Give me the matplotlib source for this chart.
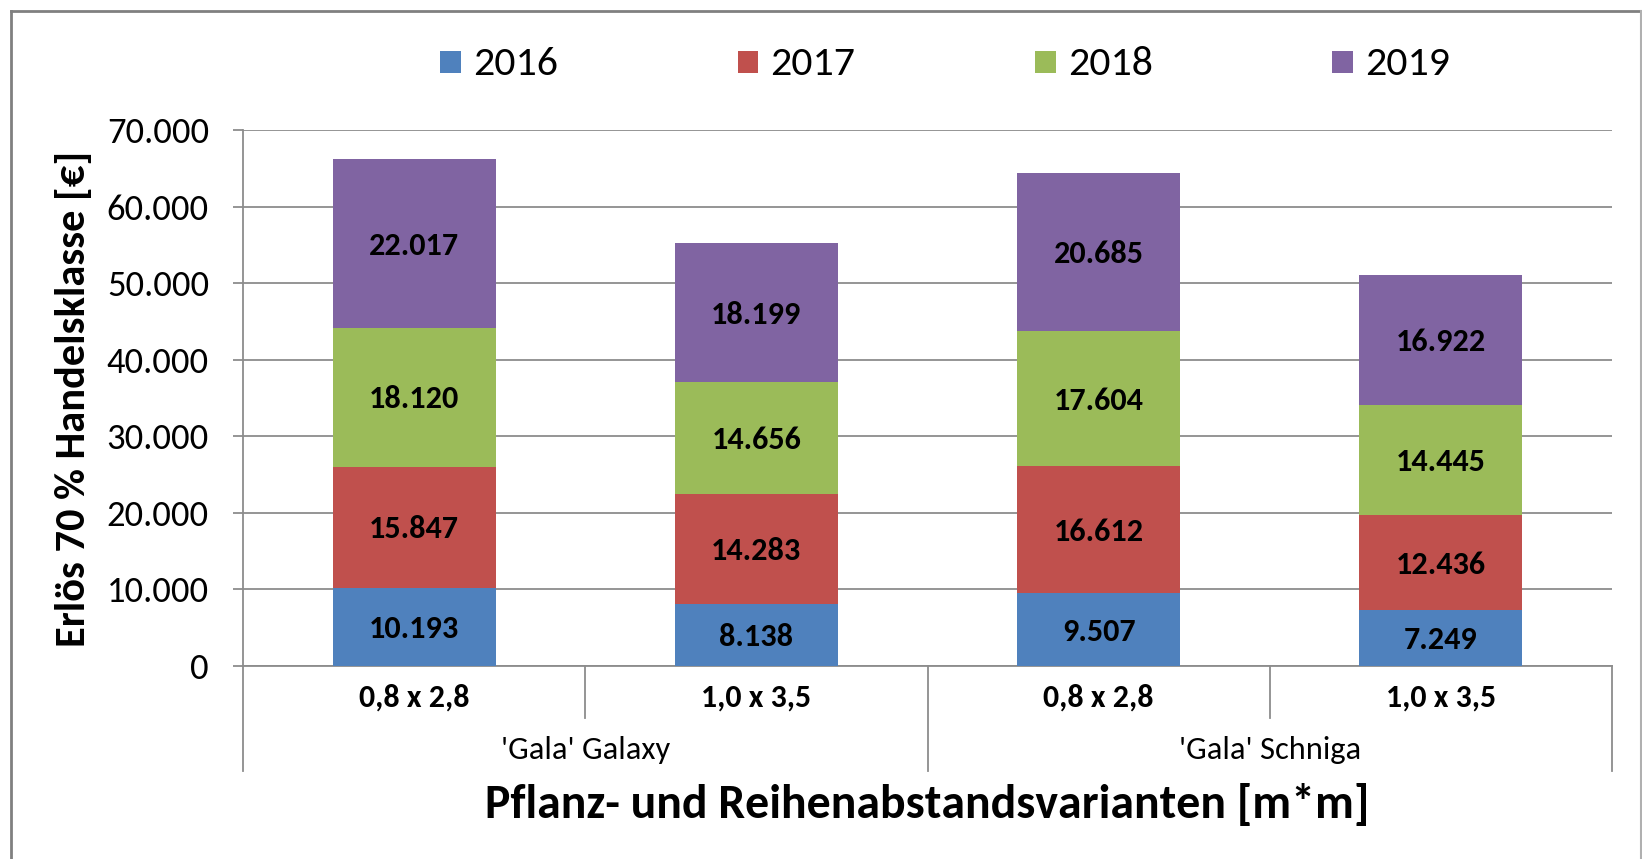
import matplotlib
matplotlib.use('Agg')
import matplotlib.pyplot as plt
from matplotlib import font_manager
from matplotlib.lines import Line2D
from matplotlib.patches import Patch
from matplotlib.ticker import FuncFormatter, MultipleLocator
import numpy as np

names = {f.name for f in font_manager.fontManager.ttflist}
FONT = 'Carlito' if 'Carlito' in names else 'Lato'
plt.rcParams['font.family'] = [FONT, 'DejaVu Sans']

# ---- data ----
sub_labels = ['0,8 x 2,8', '1,0 x 3,5', '0,8 x 2,8', '1,0 x 3,5']
group_labels = ["'Gala' Galaxy", "'Gala' Schniga"]
years = ['2016', '2017', '2018', '2019']
v2016 = [10193, 8138, 9507, 7249]
v2017 = [15847, 14283, 16612, 12436]
v2018 = [18120, 14656, 17604, 14445]
v2019 = [22017, 18199, 20685, 16922]
y_title = 'Erlös 70 % Handelsklasse [€]'
x_title = 'Pflanz- und Reihenabstandsvarianten [m*m]'

series = [v2016, v2017, v2018, v2019]
colors = ['#4F81BD', '#C0504D', '#9BBB59', '#8064A2']
GRID = '#8c8c8c'

W, H = 1642, 859
fig = plt.figure(figsize=(W / 100, H / 100), dpi=100)
ax = fig.add_axes([243 / W, 1 - 666 / H, (1612 - 243) / W, 536 / H])

def fmt(v):
    return f"{int(round(v)):,}".replace(',', '.')

x = np.arange(len(sub_labels))
bottom = np.zeros(len(sub_labels))
data_texts = []
for vals, col, yr in zip(series, colors, years):
    bars = ax.bar(x, vals, width=0.476, bottom=bottom, color=col, linewidth=0, label=yr, zorder=3)
    txts = ax.bar_label(bars, labels=[fmt(v) for v in vals], label_type='center',
                        fontweight='bold', fontsize=20, color='black')
    for t in txts:
        t.xyann = (0, -1.5)
    data_texts.extend(txts)
    bottom = bottom + np.array(vals)

ax.set_xlim(-0.5, len(sub_labels) - 0.5)
ax.set_ylim(0, 70000)
ax.yaxis.set_major_locator(MultipleLocator(10000))
ax.yaxis.set_major_formatter(FuncFormatter(lambda v, p: fmt(v)))
ax.grid(axis='y', color=GRID, linewidth=1.3, zorder=0)
ax.set_axisbelow(True)
for s in ['top', 'right']:
    ax.spines[s].set_visible(False)
ax.spines['left'].set_color(GRID)
ax.spines['left'].set_linewidth(1.3)
ax.spines['bottom'].set_color(GRID)
ax.spines['bottom'].set_linewidth(1.3)
ax.tick_params(axis='y', direction='out', length=7.5, width=1.3, color=GRID, pad=17, labelsize=23)
ax.tick_params(axis='x', length=0, labelbottom=False)

# multi-level category axis
tr = ax.get_xaxis_transform()
for xs in np.arange(-0.5, len(sub_labels), 1.0):
    is_group = (xs == -0.5) or (xs == len(sub_labels) - 0.5) or (abs(xs - 1.5) < 1e-9)
    y1 = -0.196 if is_group else -0.097
    ax.add_line(Line2D([xs, xs], [0, y1], transform=tr, color=GRID, linewidth=1.3, clip_on=False))
sub_texts = []
for xi, lab in zip(x, sub_labels):
    sub_texts.append(ax.text(xi, -0.058, lab, transform=tr, ha='center', va='center',
                             fontweight='bold', fontsize=20))
grp_texts = []
for gi, lab in enumerate(group_labels):
    grp_texts.append(ax.text(gi * 2 + 0.5, -0.157, lab, transform=tr, ha='center', va='center',
                             fontsize=20))

xt = fig.text(927.5 / W, 1 - 804 / H, x_title, ha='center', va='center', fontweight='bold', fontsize=30)
yt = fig.text(73 / W, 1 - 399 / H, y_title, ha='center', va='center', rotation=90,
              fontweight='bold', fontsize=24)

handles = [Patch(facecolor=c, edgecolor='none') for c in colors]
leg = fig.legend(handles, years, loc='center', bbox_to_anchor=(945 / W, 1 - 64 / H), ncol=4,
                 frameon=False, fontsize=26, handlelength=0.58, handleheight=0.58,
                 handletextpad=0.33, columnspacing=4.97, borderpad=0, borderaxespad=0)

# chart border
fig.add_artist(Line2D([10.5 / W, 10.5 / W], [0, 1 - 10.5 / H], transform=fig.transFigure, color='#808080', linewidth=2))
fig.add_artist(Line2D([10.5 / W, 1640.5 / W], [1 - 10.5 / H, 1 - 10.5 / H], transform=fig.transFigure, color='#808080', linewidth=2))
fig.add_artist(Line2D([1640.5 / W, 1640.5 / W], [0, 1 - 10.5 / H], transform=fig.transFigure, color='#b0b0b0', linewidth=1.5))

# fit font sizes to measured text widths
fig.canvas.draw()
r = fig.canvas.get_renderer()

def fit(texts, target, vertical=False):
    t0 = texts[0]
    e = t0.get_window_extent(r)
    cur = e.height if vertical else e.width
    s = t0.get_fontsize() * target / cur
    for t in texts:
        t.set_fontsize(s)
    return s

fit(data_texts, 90)
fit(sub_texts, 110)
fit(grp_texts, 169)
fit([xt], 882)
fit([yt], 495, vertical=True)
ylabs = ax.get_yticklabels()
lab70 = [t for t in ylabs if t.get_text() == '70.000'][0]
s = fit([lab70], 103)
ax.tick_params(axis='y', labelsize=s)
fit(leg.get_texts(), 85)

fig.savefig('out.png', dpi=100)
